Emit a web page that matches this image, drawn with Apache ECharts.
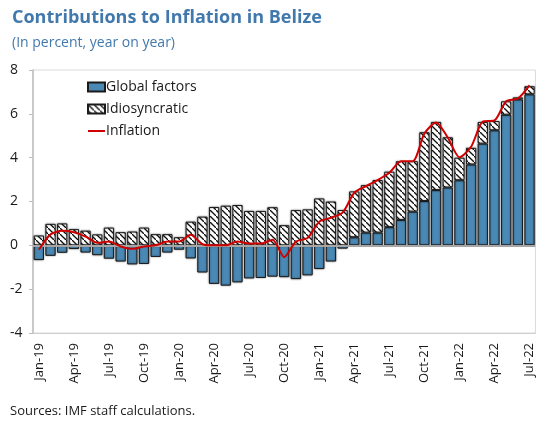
<!DOCTYPE html>
<html>
<head>
<meta charset="utf-8">
<script src="https://cdn.jsdelivr.net/npm/echarts@6/dist/echarts.min.js"></script>
<style>
  html, body { margin: 0; padding: 0; background: #fff; }
  #chart { width: 536px; height: 421px; }
</style>
</head>
<body>
<div id="chart"></div>
<script>
const months = [
  'Jan-19','Feb-19','Mar-19','Apr-19','May-19','Jun-19','Jul-19','Aug-19','Sep-19','Oct-19','Nov-19','Dec-19',
  'Jan-20','Feb-20','Mar-20','Apr-20','May-20','Jun-20','Jul-20','Aug-20','Sep-20','Oct-20','Nov-20','Dec-20',
  'Jan-21','Feb-21','Mar-21','Apr-21','May-21','Jun-21','Jul-21','Aug-21','Sep-21','Oct-21','Nov-21','Dec-21',
  'Jan-22','Feb-22','Mar-22','Apr-22','May-22','Jun-22','Jul-22'
]
const globalFactors = [
  -0.67, -0.48, -0.34, -0.17, -0.33, -0.45, -0.61, -0.74, -0.87, -0.85, -0.53, -0.33,
  -0.2, -0.6, -1.24, -1.76, -1.84, -1.69, -1.51, -1.49, -1.43, -1.45, -1.54, -1.37,
  -1.08, -0.74, -0.15, 0.37, 0.58, 0.58, 0.83, 1.16, 1.54, 2.02, 2.52, 2.64,
  2.97, 3.69, 4.64, 5.25, 5.96, 6.66, 6.89
]
const idiosyncratic = [
  0.45, 0.98, 1.0, 0.74, 0.67, 0.5, 0.81, 0.6, 0.63, 0.81, 0.51, 0.51,
  0.37, 1.08, 1.31, 1.75, 1.81, 1.84, 1.57, 1.57, 1.74, 0.92, 1.61, 1.64,
  2.14, 2.0, 1.61, 2.09, 2.17, 2.4, 2.53, 2.68, 2.3, 3.14, 3.11, 2.29,
  1.03, 0.76, 0.99, 0.42, 0.61, 0.09, 0.37
]
const inflation = [
  -0.2, 0.5, 0.66, 0.6, 0.4, 0.12, 0.17, -0.05, -0.16, -0.05, 0.0, 0.17,
  0.17, 0.48, 0.05, 0.0, 0.0, 0.17, 0.08, 0.08, 0.25, -0.54, 0.17, 0.33,
  1.08, 1.26, 1.49, 2.4, 2.7, 2.98, 3.31, 3.84, 3.84, 5.1, 5.61, 4.92,
  4.02, 4.5, 5.65, 5.7, 6.57, 6.7, 7.3
]

const font = "'Open Sans', 'Noto Sans', sans-serif"
const blue = '#4a89b5'
const textColor = '#1a1a1a'

// white tile with dark diagonal strokes for the idiosyncratic bars
function hatchTile() {
  const c = document.createElement('canvas')
  c.width = 6
  c.height = 6
  const ctx = c.getContext('2d')
  ctx.fillStyle = '#ffffff'
  ctx.fillRect(0, 0, 6, 6)
  ctx.strokeStyle = '#111111'
  ctx.lineWidth = 1.3
  ctx.beginPath()
  ctx.moveTo(-1, -1)
  ctx.lineTo(7, 7)
  ctx.stroke()
  return c
}

const chart = echarts.init(document.getElementById('chart'))

const option = {
  backgroundColor: '#ffffff',
  animation: false,
  textStyle: { fontFamily: font },
  title: {
    text: 'Contributions to Inflation in Belize',
    subtext: '(In percent, year on year)',
    left: 7,
    top: 4,
    itemGap: 9,
    textStyle: { fontFamily: font, fontSize: 18, fontWeight: 'bold', color: '#4279ad' },
    subtextStyle: { fontFamily: font, fontSize: 14, color: '#4279ad' },
  },
  legend: {
    orient: 'vertical',
    left: 82,
    top: 75,
    itemGap: 8,
    itemWidth: 17,
    itemHeight: 9,
    textStyle: { fontFamily: font, fontSize: 14, color: textColor, lineHeight: 14, padding: [0, 0, 0, -4] },
    data: [
      { name: 'Global factors', icon: 'rect' },
      { name: 'Idiosyncratic', icon: 'rect' },
      { name: 'Inflation', icon: 'path://M0,0 L20,0 L20,2.4 L0,2.4 Z' },
    ],
  },
  grid: {
    left: 33,
    top: 70,
    right: -3,
    bottom: 88,
    show: true,
    borderColor: '#d9d9d9',
    borderWidth: 1,
  },
  xAxis: {
    type: 'category',
    data: months,
    axisLine: { onZero: false, lineStyle: { color: '#d0d0d0', width: 1 } },
    axisTick: { show: false },
    axisLabel: {
      interval: 2,
      rotate: 90,
      margin: 10,
      fontSize: 13,
      color: textColor,
      fontFamily: font,
    },
  },
  yAxis: {
    type: 'value',
    min: -4,
    max: 8,
    interval: 2,
    axisLine: { show: true, lineStyle: { color: '#bfbfbf', width: 1.5 } },
    axisTick: { show: true, length: 4, lineStyle: { color: '#bfbfbf' } },
    splitLine: { show: false },
    axisLabel: { fontSize: 14, color: textColor, margin: 23, align: 'left', fontFamily: font },
  },
  series: [
    {
      name: 'Global factors',
      type: 'bar',
      stack: 'c',
      data: globalFactors,
      barCategoryGap: '12%',
      itemStyle: {
        color: blue,
        borderColor: '#1a1a1a',
        borderWidth: 1,
        shadowColor: 'rgba(0,0,0,0.45)',
        shadowBlur: 2,
      },
      markLine: {
        silent: true,
        symbol: 'none',
        label: { show: false },
        lineStyle: { color: '#a6a6a6', width: 2, type: 'solid' },
        data: [{ yAxis: 0 }],
      },
    },
    {
      name: 'Idiosyncratic',
      type: 'bar',
      stack: 'c',
      data: idiosyncratic,
      itemStyle: {
        color: { image: hatchTile(), repeat: 'repeat' },
        borderColor: '#1a1a1a',
        borderWidth: 1,
        shadowColor: 'rgba(0,0,0,0.45)',
        shadowBlur: 2,
      },
    },
    {
      name: 'Inflation',
      type: 'line',
      data: inflation,
      symbol: 'none',
      smooth: 0.25,
      z: 5,
      lineStyle: { color: '#d00000', width: 2 },
      itemStyle: { color: '#d00000' },
    },
  ],
  graphic: [
    {
      type: 'text',
      left: 10,
      top: 405,
      style: {
        text: 'Sources: IMF staff calculations.',
        fontFamily: font,
        fontSize: 13,
        fill: textColor,
      },
    },
  ],
}

chart.setOption(option)
</script>
</body>
</html>
